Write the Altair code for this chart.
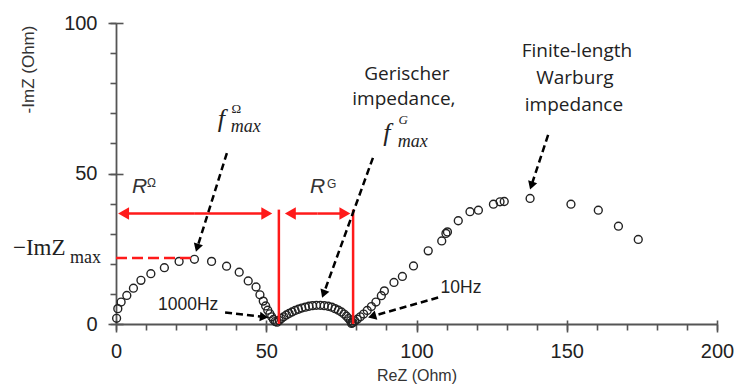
import math
import altair as alt
import pandas as pd

# ---------------- data ----------------
# high-frequency arc (R_Omega)
arc1_x = [0.2, 0.6, 1.7, 3.6, 5.8, 8.3, 11.6, 16.1, 21.0, 26.1, 31.8, 36.8, 41.0, 44.0,
          46.6, 47.9, 49.0, 49.8, 50.5, 51.2, 51.8, 52.4, 53.0]
arc1_y = [1.9, 5.1, 7.3, 9.5, 11.9, 14.5, 16.7, 18.7, 20.8, 21.5, 20.8, 19.2, 17.2, 14.3,
          12.3, 9.7, 7.6, 6.0, 4.6, 3.4, 2.4, 1.5, 0.8]
# Gerischer arc
arc2_x = [53.6, 54.3, 55.0, 55.8, 56.7, 57.6, 58.6, 59.6, 60.7, 61.8, 63.0, 64.2, 65.4,
          66.7, 68.0, 69.3, 70.6, 71.8, 72.9, 74.0, 75.0, 75.9, 76.7, 77.4, 78.0, 78.5]
arc2_y = [0.6, 1.2, 1.8, 2.4, 3.0, 3.5, 4.0, 4.5, 4.9, 5.3, 5.6, 5.9, 6.1,
          6.2, 6.2, 6.1, 5.9, 5.6, 5.1, 4.6, 4.0, 3.3, 2.6, 1.8, 1.1, 0.5]
# finite-length Warburg arc
arc3_x = [78.4, 78.9, 79.5, 80.3, 81.3, 82.4, 83.6, 85.0, 86.5, 88.3, 89.3, 92.5, 95.3,
          99.0, 103.9, 108.4, 109.8, 110.3, 113.9, 117.8, 120.6, 125.6, 127.8, 129.2,
          137.8, 151.4, 160.5, 167.2, 173.8]
arc3_y = [0.2, 0.5, 1.0, 1.6, 2.4, 3.3, 4.5, 5.8, 7.3, 9.4, 11.0, 13.8, 15.8,
          19.3, 24.3, 27.6, 30.1, 30.6, 34.3, 37.3, 37.8, 39.8, 40.6, 40.7,
          41.7, 39.8, 37.8, 32.5, 28.1]

x_ticks = list(range(0, 201, 10))
x_major = [0, 50, 100, 150, 200]
y_ticks = list(range(0, 101, 10))
y_major = [0, 50, 100]

# annotation anchors (data units)
r_omega = 52.0
r_g_start, r_g_end = 56.2, 78.0
r_level = 36.7
split_1, split_2, split_top = 54.2, 78.9, 38.0
imz_max = 21.9
imz_max_x = 26.0

# ---------------- layout ----------------
W, H = 601, 301
PX, PY = W / 200.0, H / 100.0
XS = alt.Scale(domain=[0, 200], nice=False, zero=False)
YS = alt.Scale(domain=[0, 100], nice=False, zero=False)
INK = "#222222"
RED = "#ff1a1a"

df = pd.DataFrame({"x": arc1_x + arc2_x + arc3_x, "y": arc1_y + arc2_y + arc3_y})

points = alt.Chart(df).mark_point(
    shape="circle", filled=False, size=62, strokeWidth=1.4, color=INK, opacity=1
).encode(
    x=alt.X("x:Q", scale=XS, axis=alt.Axis(
        orient="bottom", values=x_ticks, tickSize=6, tickWidth=1.6, tickColor="#555",
        domainColor="#555", domainWidth=1.8, grid=False,
        labelExpr="datum.value % 50 == 0 ? datum.label : ''",
        labelFont="Liberation Sans", labelFontSize=20, labelColor=INK, labelPadding=11,
        labelFlush=False, labelOverlap=False,
        title="ReZ (Ohm)", titleFont="Liberation Sans", titleFontSize=16,
        titleFontWeight="normal", titleColor="#333", titleY=56, titleBaseline="alphabetic")),
    y=alt.Y("y:Q", scale=YS, axis=alt.Axis(
        orient="left", values=y_ticks, tickSize=6, tickWidth=1.6, tickColor="#555",
        domainColor="#555", domainWidth=1.8, grid=False,
        labelExpr="datum.value % 50 == 0 ? datum.label : ''",
        labelFont="Liberation Sans", labelFontSize=20, labelColor=INK, labelPadding=13,
        labelFlush=False, labelOverlap=False,
        title="-ImZ (Ohm)", titleFont="Liberation Sans", titleFontSize=17,
        titleFontWeight="normal", titleColor="#333", titleX=-88, titleY=46,
        titleAngle=270, titleAlign="center", titleBaseline="middle")),
)

# inner halves of the major ticks (they cross the axis line)
major_ticks = alt.Chart(df).mark_point(opacity=0).encode(
    x=alt.X("x:Q", scale=XS, axis=alt.Axis(
        orient="bottom", values=x_major, offset=-4, tickSize=4, tickWidth=1.6,
        tickColor="#555", domain=False, labels=False, title=None, grid=False)),
    y=alt.Y("y:Q", scale=YS, axis=alt.Axis(
        orient="left", values=y_major, offset=-7, tickSize=7, tickWidth=1.6,
        tickColor="#555", domain=False, labels=False, title=None, grid=False)),
)
major_out = alt.Chart(df).mark_point(opacity=0).encode(
    x=alt.X("x:Q", scale=XS, axis=alt.Axis(
        orient="bottom", values=x_major, tickSize=8, tickWidth=1.6,
        tickColor="#555", domain=False, labels=False, title=None, grid=False)),
    y=alt.Y("y:Q", scale=YS, axis=alt.Axis(
        orient="left", values=y_major, tickSize=8, tickWidth=1.6,
        tickColor="#555", domain=False, labels=False, title=None, grid=False)),
)

layers = [points, major_ticks, major_out]


def seg(x0, y0, x1, y1, color, width, dash=None):
    d = pd.DataFrame({"x": [x0], "y": [y0], "x2": [x1], "y2": [y1]})
    kw = dict(color=color, strokeWidth=width)
    if dash:
        kw["strokeDash"] = dash
    return alt.Chart(d).mark_rule(**kw).encode(
        x=alt.X("x:Q", scale=XS, axis=None), y=alt.Y("y:Q", scale=YS, axis=None),
        x2="x2:Q", y2="y2:Q")


def head(x_tip, y_tip, ux, uy, color, size):
    # ux, uy: unit direction in screen pixels (y down)
    h = 0.433 * math.sqrt(size)
    cx = x_tip - ux * h / PX
    cy = y_tip + uy * h / PY
    ang = math.degrees(math.atan2(ux, -uy)) % 360
    d = pd.DataFrame({"x": [cx], "y": [cy]})
    return alt.Chart(d).mark_point(
        shape="triangle-up", filled=True, color=color, opacity=1, size=size,
        angle=ang, strokeWidth=0).encode(
        x=alt.X("x:Q", scale=XS, axis=None), y=alt.Y("y:Q", scale=YS, axis=None))


def arrow(x0, y0, x1, y1, color, width, dash, size):
    dxp, dyp = (x1 - x0) * PX, -(y1 - y0) * PY
    L = math.hypot(dxp, dyp)
    ux, uy = dxp / L, dyp / L
    h = 0.866 * math.sqrt(size)
    xe = x1 - ux * h * 0.6 / PX
    ye = y1 + uy * h * 0.6 / PY
    return [seg(x0, y0, xe, ye, color, width, dash), head(x1, y1, ux, uy, color, size)]


def txt(s, x, y, size, font="Liberation Sans", style="normal", align="left",
        baseline="alphabetic", color=INK):
    d = pd.DataFrame({"x": [x], "y": [y], "t": [s]})
    return alt.Chart(d).mark_text(
        font=font, fontSize=size, fontStyle=style, align=align, baseline=baseline,
        color=color).encode(
        x=alt.X("x:Q", scale=XS, axis=None), y=alt.Y("y:Q", scale=YS, axis=None),
        text="t:N")


# red construction lines
layers += [seg(0, imz_max, imz_max_x, imz_max, RED, 2.5, [11, 5])]
layers += [seg(split_1, 0, split_1, split_top, RED, 2.5),
           seg(split_2, 0, split_2, split_top, RED, 2.5)]
layers += arrow(r_omega * 0.5, r_level, 0.7, r_level, RED, 2.5, None, 160)
layers += arrow(r_omega * 0.5, r_level, r_omega, r_level, RED, 2.5, None, 160)
mid_g = (r_g_start + r_g_end) / 2
layers += arrow(mid_g, r_level, r_g_start, r_level, RED, 2.5, None, 160)
layers += arrow(mid_g, r_level, r_g_end, r_level, RED, 2.5, None, 160)

# black dashed pointer arrows
DASH = [7, 4]
layers += arrow(36.9, 56.8, 26.6, 24.0, "black", 2.5, DASH, 90)
layers += arrow(85.5, 55.2, 68.6, 8.7, "black", 2.5, DASH, 90)
layers += arrow(143.8, 62.8, 137.8, 44.7, "black", 2.5, DASH, 90)
layers += arrow(36.3, 3.8, 50.6, 2.2, "black", 2.5, DASH, 90)
layers += arrow(107.2, 8.8, 83.9, 2.2, "black", 2.5, DASH, 90)

# text annotations
SERIF = "Liberation Serif"
OPEN = "Open Sans"
layers += [
    txt("R", 5.3, 43.5, 21, style="italic", color="#333"),
    txt("\u03a9", 10.3, 45.5, 12, color="#333"),
    txt("R", 64.6, 43.5, 21, style="italic", color="#333"),
    txt("G", 70.2, 45.2, 12, color="#333"),
    txt("f", 33.9, 65.5, 26, font=SERIF, style="italic"),
    txt("\u03a9", 38.4, 70.2, 13, font=SERIF),
    txt("max", 38.2, 63.9, 18, font=SERIF, style="italic"),
    txt("f", 88.9, 60.8, 26, font=SERIF, style="italic"),
    txt("G", 94.0, 66.3, 13, font=SERIF, style="italic"),
    txt("max", 93.8, 58.8, 18, font=SERIF, style="italic"),
    txt("Gerischer", 96.8, 81.2, 19, font=OPEN, align="center"),
    txt("impedance,", 95.8, 72.6, 19, font=OPEN, align="center"),
    txt("Finite-length", 153.4, 88.7, 19, font=OPEN, align="center"),
    txt("Warburg", 152.7, 79.6, 19, font=OPEN, align="center"),
    txt("impedance", 152.4, 70.6, 19, font=OPEN, align="center"),
    txt("1000Hz", 24.0, 4.65, 17.5, align="center"),
    txt("10Hz", 114.8, 10.3, 17.5, align="center"),
    txt("\u2212ImZ", -34.3, 22.9, 23, font=SERIF),
    txt("max", -15.3, 20.3, 18, font=SERIF),
]

chart = alt.layer(*layers).resolve_axis(x="independent", y="independent").properties(
    width=W, height=H,
    autosize=alt.AutoSizeParams(type="none"),
    padding={"left": 116, "top": 23, "right": 20, "bottom": 61},
    background="white",
).configure_view(stroke=None)

chart.save("out.html", embed_options={"renderer": "svg", "actions": False})
